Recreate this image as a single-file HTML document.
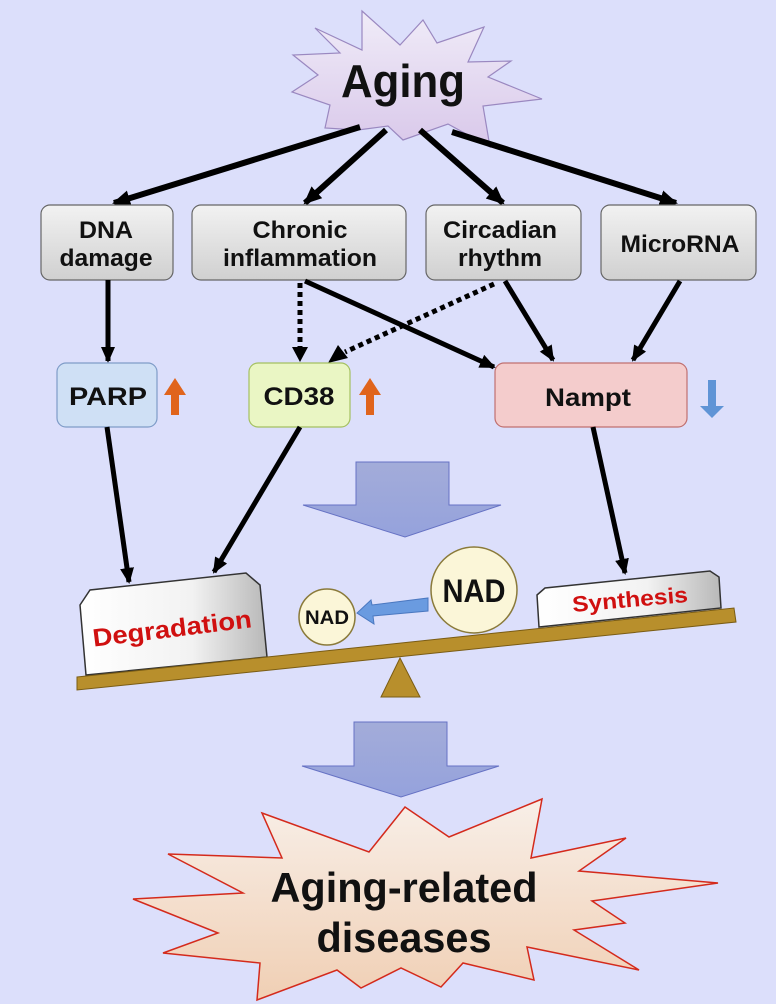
<!DOCTYPE html>
<html><head><meta charset="utf-8"><style>
html,body{margin:0;padding:0;background:#dcdffb;}
svg{display:block}
text{font-family:"Liberation Sans",Arial,sans-serif;font-weight:bold;}
</style></head><body>
<svg width="776" height="1004" viewBox="0 0 776 1004" xmlns="http://www.w3.org/2000/svg">
<defs>
<linearGradient id="gbox" x1="0" y1="0" x2="0" y2="1"><stop offset="0" stop-color="#f2f2f2"/><stop offset="1" stop-color="#d0d0d0"/></linearGradient>
<linearGradient id="gstar" x1="0" y1="0" x2="0" y2="1"><stop offset="0" stop-color="#f0ecf8"/><stop offset="1" stop-color="#d9c8ea"/></linearGradient>
<linearGradient id="gstar2" x1="0" y1="0" x2="0" y2="1"><stop offset="0" stop-color="#f8efe8"/><stop offset="1" stop-color="#f0cfb4"/></linearGradient>
<linearGradient id="gblk" x1="0" y1="0" x2="1" y2="0"><stop offset="0" stop-color="#ffffff"/><stop offset="0.6" stop-color="#f2f2f2"/><stop offset="1" stop-color="#b8b8b8"/></linearGradient>
<linearGradient id="garr" x1="0" y1="0" x2="0" y2="1"><stop offset="0" stop-color="#a3acd9"/><stop offset="1" stop-color="#95a2dc"/></linearGradient>
<marker id="ah" markerWidth="20" markerHeight="18" refX="16" refY="8" orient="auto" markerUnits="userSpaceOnUse"><path d="M0,0 L18,8 L0,16 Z" fill="#000"/></marker>
<marker id="ahs" markerWidth="18" markerHeight="16" refX="14" refY="7" orient="auto" markerUnits="userSpaceOnUse"><path d="M0,0 L16,7 L0,14 Z" fill="#000"/></marker>
</defs>

<polygon points="362,11 400,45 423,20 437,43 484,27 468,62 511,61 488,77 542,99 483,106 490,147 448,124 403,140 388,126 358,130 325,128 330,105 292,92 318,75 293,55 340,53 315,28 362,50" fill="url(#gstar)" stroke="#9a88c0" stroke-width="1.2"/>
<text x="403" y="97" font-size="46" text-anchor="middle" fill="#111" textLength="124" lengthAdjust="spacingAndGlyphs">Aging</text>

<g stroke="#000" stroke-width="6" fill="none" marker-end="url(#ah)">
<line x1="360" y1="127" x2="114" y2="203"/>
<line x1="386" y1="130" x2="305" y2="203"/>
<line x1="420" y1="130" x2="503" y2="203"/>
<line x1="452" y1="132" x2="676" y2="203"/>
</g>

<g stroke="#666" stroke-width="1.2" fill="url(#gbox)">
<rect x="41" y="205" width="132" height="75" rx="9"/>
<rect x="192" y="205" width="214" height="75" rx="9"/>
<rect x="426" y="205" width="155" height="75" rx="9"/>
<rect x="601" y="205" width="155" height="75" rx="9"/>
</g>
<g font-size="24" text-anchor="middle" fill="#111" lengthAdjust="spacingAndGlyphs">
<text x="106" y="238" textLength="54" lengthAdjust="spacingAndGlyphs">DNA</text><text x="106" y="266" textLength="93" lengthAdjust="spacingAndGlyphs">damage</text>
<text x="300" y="238" textLength="95" lengthAdjust="spacingAndGlyphs">Chronic</text><text x="300" y="266" textLength="154" lengthAdjust="spacingAndGlyphs">inflammation</text>
<text x="500" y="238" textLength="114" lengthAdjust="spacingAndGlyphs">Circadian</text><text x="500" y="266" textLength="84" lengthAdjust="spacingAndGlyphs">rhythm</text>
<text x="680" y="252" textLength="119" lengthAdjust="spacingAndGlyphs">MicroRNA</text>
</g>

<g stroke="#000" stroke-width="5" fill="none" marker-end="url(#ahs)">
<line x1="108" y1="280" x2="108" y2="361"/>
<line x1="305" y1="281" x2="494" y2="367"/>
<line x1="505" y1="281" x2="553" y2="360"/>
<line x1="680" y1="281" x2="633" y2="360"/>
</g>
<g stroke="#000" stroke-width="5" fill="none" stroke-dasharray="5,4">
<line x1="300" y1="283" x2="300" y2="348"/>
<line x1="494" y1="284" x2="345" y2="352"/>
</g>
<polygon points="292,347 308,347 300,362" fill="#000"/>
<polygon points="328,363 338,345 348,358" fill="#000"/>

<rect x="57" y="363" width="100" height="64" rx="9" fill="#cfe0f5" stroke="#7f9cc8" stroke-width="1.2"/>
<rect x="249" y="363" width="101" height="64" rx="9" fill="#eaf6c4" stroke="#a4c060" stroke-width="1.2"/>
<rect x="495" y="363" width="192" height="64" rx="9" fill="#f4cccc" stroke="#c07070" stroke-width="1.2"/>
<g font-size="25" text-anchor="middle" fill="#111">
<text x="108" y="405" textLength="78" lengthAdjust="spacingAndGlyphs">PARP</text>
<text x="299" y="405" textLength="71" lengthAdjust="spacingAndGlyphs">CD38</text>
<text x="588" y="406" textLength="86" lengthAdjust="spacingAndGlyphs">Nampt</text>
</g>
<polygon points="171,415 171,395 164,395 175,378 186,395 179,395 179,415" fill="#e0641c"/>
<polygon points="366,415 366,395 359,395 370,378 381,395 374,395 374,415" fill="#e0641c"/>
<polygon points="708,380 716,380 716,406 724,406 712,418 700,406 708,406" fill="#5f94d6"/>

<g stroke="#000" stroke-width="5" fill="none" marker-end="url(#ahs)">
<line x1="107" y1="427" x2="129" y2="582"/>
<line x1="300" y1="427" x2="214" y2="572"/>
<line x1="593" y1="427" x2="625" y2="573"/>
</g>

<polygon points="356,462 449,462 449,505 501,505 405,537 303,505 356,505" fill="url(#garr)" stroke="#6672c4" stroke-width="1"/>

<polygon points="80,605 90,590 246,573 260,585 267,657 86,675" fill="url(#gblk)" stroke="#333" stroke-width="1.5"/>
<text x="172" y="637" font-size="25" fill="#d01010" text-anchor="middle" transform="rotate(-7 172 628)" textLength="160" lengthAdjust="spacingAndGlyphs">Degradation</text>
<polygon points="537,595 545,588 710,571 719,577 721,608 539,627" fill="url(#gblk)" stroke="#333" stroke-width="1.5"/>
<text x="630" y="607" font-size="22" fill="#d01010" text-anchor="middle" transform="rotate(-5 630 600)" textLength="116" lengthAdjust="spacingAndGlyphs">Synthesis</text>
<polygon points="77,677 734,608 736,622 77,690" fill="#b88f2c" stroke="#7a5c14" stroke-width="1"/>
<polygon points="381,697 420,697 400,658" fill="#b88f2c" stroke="#7a5c14" stroke-width="1"/>
<circle cx="327" cy="617" r="28" fill="#fbf6d8" stroke="#8a7a3a" stroke-width="1.5"/>
<text x="327" y="624" font-size="19" text-anchor="middle" fill="#111" textLength="44" lengthAdjust="spacingAndGlyphs">NAD</text>
<circle cx="474" cy="590" r="43" fill="#fbf6d8" stroke="#8a7a3a" stroke-width="1.5"/>
<text x="474" y="602" font-size="32" text-anchor="middle" fill="#111" textLength="63" lengthAdjust="spacingAndGlyphs">NAD</text>
<polygon points="428,598 428,611 373,616 374,624 357,613 371,600 372,605" fill="#6a9be0" stroke="#4a78c0" stroke-width="1"/>

<polygon points="354,722 447,722 447,766 499,766 401,797 302,766 354,766" fill="url(#garr)" stroke="#6672c4" stroke-width="1"/>

<polygon points="262,813 369,852 405,807 449,837 542,799 531,858 626,838 579,871 718,883 592,901 625,923 574,930 639,970 527,947 534,980 463,963 441,987 401,968 361,988 337,970 257,1000 260,963 163,953 218,933 133,899 243,893 168,854 282,858" fill="url(#gstar2)" stroke="#d42a1c" stroke-width="1.5"/>
<text x="404" y="902" font-size="42" text-anchor="middle" fill="#111" textLength="267" lengthAdjust="spacingAndGlyphs">Aging-related</text>
<text x="404" y="952" font-size="42" text-anchor="middle" fill="#111" textLength="175" lengthAdjust="spacingAndGlyphs">diseases</text>
</svg>
</body></html>
